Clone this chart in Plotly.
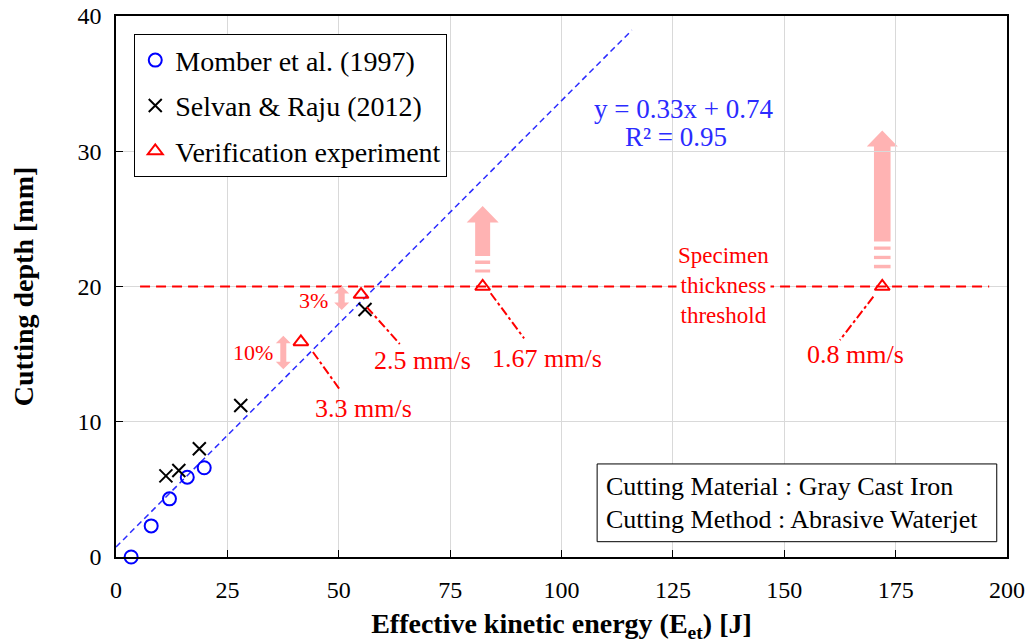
import plotly.graph_objects as go

# Measured cutting depth vs. effective kinetic energy
momber_x = [3.4, 7.9, 12.0, 16.0, 19.8]
momber_y = [0.0, 2.3, 4.3, 5.9, 6.6]

selvan_x = [11.2, 14.1, 18.7, 28.0, 55.9]
selvan_y = [6.0, 6.4, 8.0, 11.2, 18.3]

verif_x = [41.5, 55.0, 82.3, 172.0]
verif_y = [15.9, 19.4, 20.0, 20.0]
verif_speed = ["3.3 mm/s", "2.5 mm/s", "1.67 mm/s", "0.8 mm/s"]

# Linear fit y = a x + b
fit_a, fit_b = 0.33, 0.74
fit_x = [0.0, 115.8]
fit_text = ["y = 0.33x + 0.74", "R² = 0.95"]
fit_text_pos = [(127.3, 33.12), (125.7, 31.05)]

threshold_y = 20.0
threshold_x = [5.4, 196.0]

# Leader lines from verification points to their speed labels
leader_start = [(44.2, 15.16), (56.3, 18.48), (84.1, 19.5), (170.0, 19.25)]
leader_end = [(50.3, 12.35), (63.7, 15.75), (91.6, 16.17), (162.5, 16.04)]
speed_label_pos = [(55.5, 11.0), (68.7, 14.5), (96.7, 14.7), (166.1, 14.98)]

# Deviation from fit
dev_text = ["10%", "3%"]
dev_label_pos = [(30.8, 15.15), (44.4, 19.0)]
dev_arrow_x = [37.55, 50.66]
dev_arrow_y = [(13.88, 16.36), (18.26, 20.04)]

FONT = "Liberation Serif"
RED = "#FF0000"
BLUE = "#2B2BFF"
PINK = "#FFB3B3"
Y_PX_PER_UNIT = 541 / 40

fig = go.Figure()

fig.add_trace(go.Scatter(
    x=fit_x, y=[fit_a * v + fit_b for v in fit_x], mode="lines",
    line=dict(color=BLUE, width=1.5, dash="6px,4px"), showlegend=False,
    hoverinfo="skip"))

fig.add_trace(go.Scatter(
    x=threshold_x, y=[threshold_y, threshold_y], mode="lines",
    line=dict(color=RED, width=2, dash="10px,6px"), showlegend=False,
    hoverinfo="skip"))

fig.add_trace(go.Scatter(
    x=momber_x, y=momber_y, mode="markers", name="Momber et al. (1997)",
    legendgroup="a",
    marker=dict(symbol="circle-open", size=13, color="#0000FF",
                line=dict(width=2, color="#0000FF")),
    cliponaxis=False))
fig.add_trace(go.Scatter(
    x=selvan_x, y=selvan_y, mode="markers", name="Selvan &amp; Raju (2012)",
    legendgroup="b",
    marker=dict(symbol="x-thin-open", size=13, color="#000000",
                line=dict(width=2, color="#000000"))))
fig.add_trace(go.Scatter(
    x=verif_x, y=verif_y, mode="markers", name="Verification experiment",
    legendgroup="c",
    marker=dict(symbol="triangle-up-open", size=13, color=RED,
                line=dict(width=2, color=RED))))

shapes = []
annotations = []

# Dash-dot leader lines and speed labels
for (x0, y0), (x1, y1), (lx, ly), txt in zip(leader_start, leader_end,
                                              speed_label_pos, verif_speed):
    shapes.append(dict(type="line", xref="x", yref="y", x0=x0, y0=y0,
                       x1=x1, y1=y1, line=dict(color=RED, width=2, dash="dashdot")))
    annotations.append(dict(x=lx, y=ly, xref="x", yref="y", text=txt,
                            showarrow=False, font=dict(family=FONT, size=26, color=RED)))


def up_arrow(shaft_bottom, head_base, tip, shaft_hw, head_hw):
    return (f"M{-shaft_hw},{shaft_bottom} L{-shaft_hw},{head_base} L{-head_hw},{head_base} "
            f"L0,{tip} L{head_hw},{head_base} L{shaft_hw},{head_base} "
            f"L{shaft_hw},{shaft_bottom} Z")


def bar(lo, hi, hw):
    return f"M{-hw},{lo} L{-hw},{hi} L{hw},{hi} L{hw},{lo} Z"


def double_arrow(half, head_h, shaft_hw, head_hw):
    return (f"M0,{half} L{head_hw},{half - head_h} L{shaft_hw},{half - head_h} "
            f"L{shaft_hw},{-half + head_h} L{head_hw},{-half + head_h} L0,{-half} "
            f"L{-head_hw},{-half + head_h} L{-shaft_hw},{-half + head_h} "
            f"L{-shaft_hw},{half - head_h} L{-head_hw},{half - head_h} Z")


# Upward arrows above the verification points that reached the threshold
big_arrows = [
    dict(x=verif_x[2], parts=[up_arrow(30.5, 64, 80.5, 7.5, 16),
                              bar(22.5, 26, 7.5), bar(14, 17, 7.5)]),
    dict(x=verif_x[3], parts=[up_arrow(45, 140, 156, 8.3, 15.5),
                              bar(36.7, 40, 8.3), bar(27.4, 30.7, 8.3),
                              bar(18.2, 21.7, 8.3)]),
]
for arr in big_arrows:
    for p in arr["parts"]:
        shapes.append(dict(type="path", xref="x", yref="y", xsizemode="pixel",
                           ysizemode="pixel", xanchor=arr["x"], yanchor=threshold_y,
                           path=p, fillcolor=PINK, line=dict(width=0), layer="below"))

# Deviation double arrows and labels
for ax_, (ylo, yhi), txt, (lx, ly) in zip(dev_arrow_x, dev_arrow_y, dev_text, dev_label_pos):
    yc = (ylo + yhi) / 2
    half = (yhi - ylo) / 2 * Y_PX_PER_UNIT
    shapes.append(dict(type="path", xref="x", yref="y", xsizemode="pixel",
                       ysizemode="pixel", xanchor=ax_, yanchor=yc,
                       path=double_arrow(half, 7.5, 3, 7.5), fillcolor=PINK,
                       line=dict(width=0)))
    annotations.append(dict(x=lx, y=ly, xref="x", yref="y", text=txt, showarrow=False,
                            font=dict(family=FONT, size=22, color=RED)))

# Threshold label
annotations.append(dict(x=136.3, y=20.1, xref="x", yref="y",
                        text="Specimen<br>thickness<br>threshold", showarrow=False,
                        font=dict(family=FONT, size=23, color=RED), bgcolor="white"))

# Fit equation
for txt, (tx, ty) in zip(fit_text, fit_text_pos):
    annotations.append(dict(x=tx, y=ty, xref="x", yref="y", text=txt, showarrow=False,
                            font=dict(family=FONT, size=27, color=BLUE)))

# Material / method box
shapes.append(dict(type="rect", xref="paper", yref="paper", x0=0.540, x1=0.9885,
                   y0=0.0283, y1=0.172, line=dict(color="black", width=1),
                   fillcolor="white", layer="above"))
annotations.append(dict(x=0.548, y=0.100, xref="paper", yref="paper", xanchor="left",
                        text="Cutting Material : Gray Cast Iron", showarrow=False,
                        font=dict(family=FONT, size=26, color="black")))
annotations.append(dict(x=0.548, y=0.0384, xref="paper", yref="paper", xanchor="left",
                        text="Cutting Method : Abrasive Waterjet", showarrow=False,
                        font=dict(family=FONT, size=26, color="black")))

fig.update_layout(
    width=1025, height=643,
    margin=dict(l=116, r=18, t=16, b=86, autoexpand=False),
    paper_bgcolor="white", plot_bgcolor="white",
    font=dict(family=FONT, color="black"),
    shapes=shapes, annotations=annotations,
    legend=dict(x=0.0205, y=0.966, xanchor="left", yanchor="top",
                bordercolor="black", borderwidth=1, bgcolor="white",
                tracegroupgap=6, itemwidth=30,
                font=dict(family=FONT, size=28, color="black")),
    xaxis=dict(range=[0, 200], dtick=25, showgrid=True, gridcolor="#D9D9D9",
               gridwidth=1, showline=True, linecolor="black", linewidth=1.5,
               mirror=True, ticks="inside", ticklen=7, tickcolor="black",
               tickfont=dict(family=FONT, size=24), zeroline=False,
               automargin=False, ticklabelstandoff=10,
               title=dict(text="<b>Effective kinetic energy (E<sub>et</sub>) [J]</b>",
                          font=dict(family=FONT, size=28), standoff=14)),
    yaxis=dict(range=[0, 40], dtick=10, showgrid=True, gridcolor="#D9D9D9",
               gridwidth=1, showline=True, linecolor="black", linewidth=1.5,
               mirror=True, ticks="inside", ticklen=7, tickcolor="black",
               tickfont=dict(family=FONT, size=24), zeroline=False,
               automargin=False, ticklabelstandoff=8,
               title=dict(text="<b>Cutting depth [mm]</b>",
                          font=dict(family=FONT, size=28), standoff=36)),
)

fig.write_html("out.html")
